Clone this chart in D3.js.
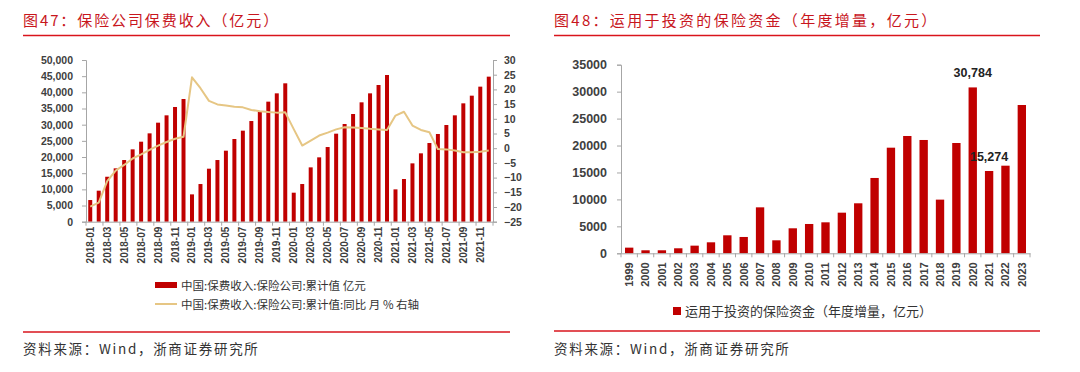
<!DOCTYPE html>
<html><head><meta charset="utf-8">
<script src="https://cdn.jsdelivr.net/npm/d3@7"></script>
<style>
html,body{margin:0;padding:0;background:#fff;}
svg{display:block;}
</style></head>
<body>
<svg id="c" width="1080" height="372"></svg>
<script>
// ---------- DATA ----------
const months = [
 "2018-01","2018-02","2018-03","2018-04","2018-05","2018-06","2018-07","2018-08","2018-09","2018-10","2018-11","2018-12",
 "2019-01","2019-02","2019-03","2019-04","2019-05","2019-06","2019-07","2019-08","2019-09","2019-10","2019-11","2019-12",
 "2020-01","2020-02","2020-03","2020-04","2020-05","2020-06","2020-07","2020-08","2020-09","2020-10","2020-11","2020-12",
 "2021-01","2021-02","2021-03","2021-04","2021-05","2021-06","2021-07","2021-08","2021-09","2021-10","2021-11","2021-12"];
const premium = [
 6700,9590,13900,16500,19070,22370,24740,27320,30620,32890,35470,37940,
 8450,11650,16390,19070,21960,25570,28150,31130,34230,37120,39690,42790,
 8970,11650,16800,19900,23090,27220,30210,33300,36910,39690,42270,45360,
 10000,13200,18040,21140,24330,27120,29900,32890,36600,38970,41760,44850];
const premiumYoY = [
 -19.9,-18.5,-11.2,-7.6,-5.7,-3.5,-2.1,-0.6,0.9,2.1,3.2,3.9,
 24.1,20.4,16.1,14.9,14.5,14.1,13.9,13.0,12.6,12.3,12.1,12.2,
 6.5,0.9,2.6,4.3,5.3,6.4,7.1,7.0,6.9,6.6,6.4,6.2,
 11.1,12.4,7.7,6.2,5.4,-0.3,-0.4,-0.8,-1.4,-1.4,-1.2,-0.8];
const leftTicks = [0,5000,10000,15000,20000,25000,30000,35000,40000,45000,50000];
const rightTicks = [-25,-20,-15,-10,-5,0,5,10,15,20,25,30];

const years = ["1999","2000","2001","2002","2003","2004","2005","2006","2007","2008","2009","2010","2011",
 "2012","2013","2014","2015","2016","2017","2018","2019","2020","2021","2022","2023"];
const investFunds = [1050,560,560,930,1420,2040,3340,3030,8530,2410,4640,5440,5750,
 7540,9280,13980,19600,21770,21030,9960,20470,30784,15274,16260,27520];
const fundTicks = [0,5000,10000,15000,20000,25000,30000,35000];
const labelledYears = ["2020","2021"];

const title1 = "图47：保险公司保费收入（亿元）";
const title2 = "图48：运用于投资的保险资金（年度增量，亿元）";
const legend1a = "中国:保费收入:保险公司:累计值 亿元";
const legend1b = "中国:保费收入:保险公司:累计值:同比 月 % 右轴";
const legend2 = "运用于投资的保险资金（年度增量，亿元）";
const source = "资料来源：Wind，浙商证券研究所";

// ---------- STYLE ----------
const RED = "#c00000", TITLE_RED = "#c8161d", LINE = "#e6c684", AXIS = "#a6a6a6", TXT = "#404040";
const serif = "'Noto Sans CJK SC','Noto Sans',sans-serif";
const numFont = "'Liberation Sans',Arial,sans-serif";

const svg = d3.select("#c");

// headers & footers
function frame(x0, x1, title, spacing, yTop, yBot){
  svg.append("text").attr("x", x0).attr("y", 26).text(title)
    .attr("font-family", serif).attr("font-size", 15).attr("letter-spacing", spacing + "px")
    .attr("fill", TITLE_RED);
  svg.append("line").attr("x1", x0).attr("x2", x1).attr("y1", yTop).attr("y2", yTop)
    .attr("stroke", "#d9141c").attr("stroke-width", 1.5);
  svg.append("line").attr("x1", x0).attr("x2", x1).attr("y1", yBot).attr("y2", yBot)
    .attr("stroke", "#d9141c").attr("stroke-width", 1.5);
  svg.append("text").attr("x", x0).attr("y", 354).text(source)
    .attr("font-family", serif).attr("font-size", 13.5).attr("letter-spacing", "1.7px")
    .attr("fill", "#333");
}
frame(23, 510, title1, 1.9, 35.5, 332);
frame(554, 1040, title2, 2.3, 35.5, 331);

// ---------- LEFT CHART ----------
const xL = d3.scaleBand().domain(months).range([86, 493]).paddingInner(0.53).paddingOuter(0.265);
const yL = d3.scaleLinear().domain([0, 50000]).range([221.7, 60]);
const yR = d3.scaleLinear().domain([-25, 30]).range([221.7, 60]);

const gL = svg.append("g");
gL.selectAll("rect.bar").data(premium).join("rect")
  .attr("x", (d,i) => xL(months[i])).attr("width", xL.bandwidth())
  .attr("y", d => yL(d)).attr("height", d => yL(0) - yL(d)).attr("fill", RED);

const line = d3.line().x((d,i) => xL(months[i]) + xL.bandwidth()/2).y(d => yR(d));
gL.append("path").datum(premiumYoY).attr("d", line)
  .attr("fill", "none").attr("stroke", LINE).attr("stroke-width", 2).attr("stroke-linejoin","round");

// axes left chart
const axL = d3.axisLeft(yL).tickValues(leftTicks).tickFormat(d3.format(",")).tickSize(4).tickPadding(9);
const gAL = svg.append("g").attr("transform", "translate(86,0)").call(axL);
const axR = d3.axisRight(yR).tickValues(rightTicks).tickSize(4).tickPadding(7);
const gAR = svg.append("g").attr("transform", "translate(493,0)").call(axR);
[gAL, gAR].forEach(g => {
  g.select(".domain").attr("stroke", AXIS);
  g.selectAll(".tick line").attr("stroke", AXIS);
  g.selectAll("text").attr("font-family", numFont).attr("font-size", 10.5)
    .attr("font-weight", "bold").attr("fill", TXT);
});
// x axis
const axXL = d3.axisBottom(xL).tickValues(months.filter((d,i) => i % 2 === 0)).tickSize(0).tickPadding(0);
const gXL = svg.append("g").attr("transform", `translate(0,${yL(0)})`).call(axXL);
gXL.select(".domain").attr("stroke", AXIS);
gXL.selectAll("text").attr("font-family", numFont).attr("font-size", 10)
  .attr("font-weight", "bold").attr("fill", TXT)
  .attr("text-anchor", "end").attr("dy", "0.35em")
  .attr("transform", "translate(0,5) rotate(-90)").attr("x", 0).attr("y", 0);
// boundary ticks every 2 categories
const bndL = months.filter((d,i) => i % 2 === 0).map(m => xL(m) - xL.step()*xL.paddingInner()/2);
bndL.push(493);
gXL.selectAll("line.bt").data(bndL).join("line").attr("class","bt")
  .attr("x1", d => d).attr("x2", d => d).attr("y1", 0).attr("y2", 4).attr("stroke", AXIS);

// legend left
svg.append("rect").attr("x", 155).attr("y", 282).attr("width", 22).attr("height", 6).attr("fill", RED);
svg.append("text").attr("x", 181).attr("y", 289.5).text(legend1a)
  .attr("font-family", serif).attr("font-size", 11.5).attr("fill", "#333");
svg.append("line").attr("x1", 155).attr("x2", 177).attr("y1", 304).attr("y2", 304)
  .attr("stroke", LINE).attr("stroke-width", 2);
svg.append("text").attr("x", 181).attr("y", 308.5).text(legend1b)
  .attr("font-family", serif).attr("font-size", 11.5).attr("fill", "#333");

// ---------- RIGHT CHART ----------
const xR = d3.scaleBand().domain(years).range([621, 1030]).paddingInner(0.49).paddingOuter(0.245);
const yF = d3.scaleLinear().domain([0, 35000]).range([253.3, 64.7]);

svg.append("g").selectAll("rect").data(investFunds).join("rect")
  .attr("x", (d,i) => xR(years[i])).attr("width", xR.bandwidth())
  .attr("y", d => yF(d)).attr("height", d => yF(0) - yF(d)).attr("fill", RED);

svg.append("g").selectAll("text").data(investFunds.map((v,i)=>({v, y: years[i]})).filter(d => labelledYears.includes(d.y)))
  .join("text")
  .attr("x", d => xR(d.y) + xR.bandwidth()/2).attr("y", d => yF(d.v) - 10)
  .attr("text-anchor", "middle").text(d => d3.format(",")(d.v))
  .attr("font-family", numFont).attr("font-size", 12.5).attr("font-weight", "bold").attr("fill", "#222");

const axF = d3.axisLeft(yF).tickValues(fundTicks).tickFormat(d3.format("d")).tickSize(4).tickPadding(10);
const gAF = svg.append("g").attr("transform", "translate(621,0)").call(axF);
gAF.select(".domain").attr("stroke", AXIS);
gAF.selectAll(".tick line").attr("stroke", AXIS);
gAF.selectAll("text").attr("font-family", numFont).attr("font-size", 12.5)
  .attr("font-weight", "bold").attr("fill", TXT);

const axXR = d3.axisBottom(xR).tickSize(0).tickPadding(0);
const gXR = svg.append("g").attr("transform", `translate(0,${yF(0)})`).call(axXR);
gXR.select(".domain").attr("stroke", AXIS);
gXR.selectAll("text").attr("font-family", numFont).attr("font-size", 11)
  .attr("font-weight", "bold").attr("fill", TXT)
  .attr("text-anchor", "end").attr("dy", "0.35em")
  .attr("transform", "translate(0,9) rotate(-90)").attr("x", 0).attr("y", 0);
const bndR = years.map(y => xR(y) - xR.step()*xR.paddingInner()/2);
bndR.push(1030);
gXR.selectAll("line.bt").data(bndR).join("line").attr("class","bt")
  .attr("x1", d => d).attr("x2", d => d).attr("y1", 0).attr("y2", 4).attr("stroke", AXIS);

// legend right
svg.append("rect").attr("x", 673).attr("y", 307).attr("width", 8).attr("height", 8).attr("fill", RED);
svg.append("text").attr("x", 685).attr("y", 315.5).text(legend2)
  .attr("font-family", serif).attr("font-size", 13).attr("fill", "#333");
</script>
</body></html>
